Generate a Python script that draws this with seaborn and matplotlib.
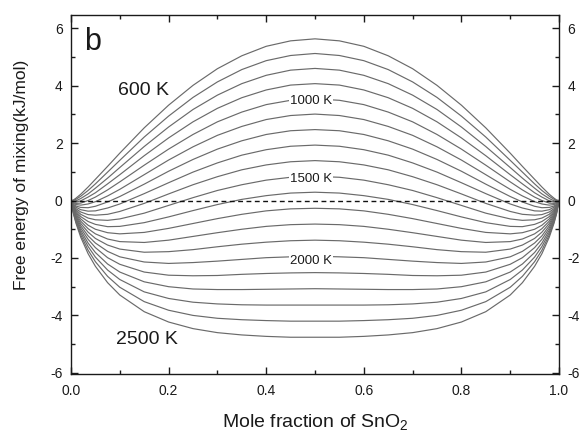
import matplotlib
matplotlib.use("Agg")
import matplotlib.pyplot as plt
from matplotlib.ticker import MultipleLocator, FormatStrFormatter
import numpy as np
import pandas as pd
import seaborn as sns

# Composition grid (mole fraction of SnO2); denser near the pure end members
mole_fraction = [0.0, 0.005, 0.01, 0.02, 0.035, 0.05, 0.075, 0.1, 0.15, 0.2,
                 0.25, 0.3, 0.35, 0.4, 0.45, 0.5, 0.55, 0.6, 0.65, 0.7, 0.75,
                 0.8, 0.85, 0.9, 0.925, 0.95, 0.965, 0.98, 0.99, 0.995, 1.0]

temperatures = [600, 700, 800, 900, 1000, 1100, 1200, 1300, 1400, 1500,
                1600, 1700, 1800, 1900, 2000, 2100, 2200, 2300, 2400, 2500]

# Free energy of mixing (kJ/mol) at each temperature
g600 = [0, 0.02, 0.08, 0.22, 0.47, 0.74, 1.19, 1.65, 2.53, 3.32, 4.01, 4.59, 5.04, 5.37, 5.56, 5.63,
        5.56, 5.37, 5.04, 4.59, 4.01, 3.32, 2.53, 1.65, 1.19, 0.74, 0.47, 0.22, 0.08, 0.02, 0]
g700 = [0, 0.00, 0.04, 0.15, 0.35, 0.58, 0.99, 1.40, 2.21, 2.94, 3.59, 4.13, 4.56, 4.87, 5.05, 5.12,
        5.05, 4.87, 4.56, 4.13, 3.59, 2.94, 2.21, 1.40, 0.99, 0.58, 0.35, 0.15, 0.04, 0.00, 0]
g800 = [0, -0.03, -0.01, 0.07, 0.23, 0.43, 0.78, 1.15, 1.88, 2.56, 3.17, 3.67, 4.07, 4.36, 4.54, 4.60,
        4.54, 4.36, 4.07, 3.67, 3.17, 2.56, 1.88, 1.15, 0.78, 0.43, 0.23, 0.07, -0.01, -0.03, 0]
g900 = [0, -0.05, -0.05, -0.01, 0.12, 0.27, 0.58, 0.90, 1.56, 2.18, 2.74, 3.21, 3.58, 3.85, 4.02, 4.07,
        4.02, 3.85, 3.58, 3.21, 2.74, 2.18, 1.56, 0.90, 0.58, 0.27, 0.12, -0.01, -0.05, -0.05, 0]
g1000 = [0, -0.08, -0.10, -0.09, 0.00, 0.12, 0.37, 0.65, 1.23, 1.79, 2.30, 2.74, 3.08, 3.34, 3.49, 3.54,
         3.49, 3.34, 3.08, 2.74, 2.30, 1.79, 1.23, 0.65, 0.37, 0.12, 0.00, -0.09, -0.10, -0.08, 0]
g1100 = [0, -0.10, -0.14, -0.16, -0.12, -0.04, 0.16, 0.39, 0.90, 1.41, 1.87, 2.27, 2.58, 2.82, 2.96, 3.01,
         2.96, 2.82, 2.58, 2.27, 1.87, 1.41, 0.90, 0.39, 0.16, -0.04, -0.12, -0.16, -0.14, -0.10, 0]
g1200 = [0, -0.13, -0.19, -0.24, -0.25, -0.20, -0.05, 0.14, 0.57, 1.02, 1.43, 1.79, 2.08, 2.30, 2.43, 2.47,
         2.43, 2.30, 2.08, 1.79, 1.43, 1.02, 0.57, 0.14, -0.05, -0.20, -0.25, -0.24, -0.19, -0.13, 0]
g1300 = [0, -0.15, -0.23, -0.32, -0.37, -0.36, -0.26, -0.12, 0.24, 0.62, 0.99, 1.31, 1.58, 1.77, 1.89, 1.93,
         1.89, 1.77, 1.58, 1.31, 0.99, 0.62, 0.24, -0.12, -0.26, -0.36, -0.37, -0.32, -0.23, -0.15, 0]
g1400 = [0, -0.18, -0.28, -0.40, -0.49, -0.51, -0.48, -0.38, -0.10, 0.23, 0.55, 0.83, 1.07, 1.24, 1.35, 1.39,
         1.35, 1.24, 1.07, 0.83, 0.55, 0.23, -0.10, -0.38, -0.48, -0.51, -0.49, -0.40, -0.28, -0.18, 0]
g1500 = [0, -0.20, -0.32, -0.48, -0.61, -0.67, -0.69, -0.64, -0.44, -0.17, 0.10, 0.35, 0.55, 0.71, 0.81, 0.84,
         0.81, 0.71, 0.55, 0.35, 0.10, -0.17, -0.44, -0.64, -0.69, -0.67, -0.61, -0.48, -0.32, -0.20, 0]
g1600 = [0, -0.23, -0.37, -0.56, -0.73, -0.83, -0.91, -0.90, -0.77, -0.57, -0.35, -0.14, 0.04, 0.17, 0.26, 0.29,
         0.26, 0.17, 0.04, -0.14, -0.35, -0.57, -0.77, -0.90, -0.91, -0.83, -0.73, -0.56, -0.37, -0.23, 0]
g1700 = [0, -0.26, -0.41, -0.64, -0.86, -1.00, -1.12, -1.16, -1.11, -0.97, -0.80, -0.63, -0.48, -0.36, -0.29, -0.27,
         -0.29, -0.36, -0.48, -0.63, -0.80, -0.97, -1.11, -1.16, -1.12, -1.00, -0.86, -0.64, -0.41, -0.26, 0]
g1800 = [0, -0.28, -0.46, -0.72, -0.98, -1.16, -1.34, -1.43, -1.46, -1.38, -1.25, -1.12, -1.00, -0.90, -0.84, -0.82,
         -0.84, -0.90, -1.00, -1.12, -1.25, -1.38, -1.46, -1.43, -1.34, -1.16, -0.98, -0.72, -0.46, -0.28, 0]
g1900 = [0, -0.31, -0.51, -0.80, -1.10, -1.32, -1.55, -1.69, -1.80, -1.78, -1.71, -1.61, -1.52, -1.45, -1.40, -1.38,
         -1.40, -1.45, -1.52, -1.61, -1.71, -1.78, -1.80, -1.69, -1.55, -1.32, -1.10, -0.80, -0.51, -0.31, 0]
g2000 = [0, -0.33, -0.55, -0.88, -1.23, -1.48, -1.77, -1.96, -2.14, -2.19, -2.16, -2.11, -2.05, -1.99, -1.96, -1.94,
         -1.96, -1.99, -2.05, -2.11, -2.16, -2.19, -2.14, -1.96, -1.77, -1.48, -1.23, -0.88, -0.55, -0.33, 0]
g2100 = [0, -0.36, -0.60, -0.96, -1.35, -1.64, -1.99, -2.22, -2.49, -2.60, -2.62, -2.61, -2.57, -2.54, -2.52, -2.51,
         -2.52, -2.54, -2.57, -2.61, -2.62, -2.60, -2.49, -2.22, -1.99, -1.64, -1.35, -0.96, -0.60, -0.36, 0]
g2200 = [0, -0.38, -0.64, -1.04, -1.48, -1.81, -2.21, -2.49, -2.83, -3.00, -3.08, -3.10, -3.10, -3.09, -3.08, -3.07,
         -3.08, -3.09, -3.10, -3.10, -3.08, -3.00, -2.83, -2.49, -2.21, -1.81, -1.48, -1.04, -0.64, -0.38, 0]
g2300 = [0, -0.41, -0.69, -1.12, -1.60, -1.97, -2.42, -2.75, -3.18, -3.41, -3.54, -3.60, -3.63, -3.64, -3.64, -3.64,
         -3.64, -3.64, -3.63, -3.60, -3.54, -3.41, -3.18, -2.75, -2.42, -1.97, -1.60, -1.12, -0.69, -0.41, 0]
g2400 = [0, -0.44, -0.74, -1.20, -1.73, -2.13, -2.64, -3.02, -3.52, -3.82, -4.00, -4.10, -4.15, -4.18, -4.20, -4.20,
         -4.20, -4.18, -4.15, -4.10, -4.00, -3.82, -3.52, -3.02, -2.64, -2.13, -1.73, -1.20, -0.74, -0.44, 0]
g2500 = [0, -0.46, -0.78, -1.28, -1.85, -2.29, -2.86, -3.29, -3.87, -4.23, -4.46, -4.60, -4.68, -4.73, -4.76, -4.76,
         -4.76, -4.73, -4.68, -4.60, -4.46, -4.23, -3.87, -3.29, -2.86, -2.29, -1.85, -1.28, -0.78, -0.46, 0]

curves = [g600, g700, g800, g900, g1000, g1100, g1200, g1300, g1400, g1500,
          g1600, g1700, g1800, g1900, g2000, g2100, g2200, g2300, g2400, g2500]

# Temperature labels: (text, x, baseline y, font size, horizontal alignment)
curve_labels = [("600 K", 0.096, 3.68, 14, "left"),
                ("1000 K", 0.492, 3.37, 9.5, "center"),
                ("1500 K", 0.492, 0.64, 9.5, "center"),
                ("2000 K", 0.492, -2.22, 9.5, "center"),
                ("2500 K", 0.092, -5.0, 14, "left")]

x_ticks = [0.0, 0.2, 0.4, 0.6, 0.8, 1.0]
y_ticks = [-6, -4, -2, 0, 2, 4, 6]

rows = []
for temp, g in zip(temperatures, curves):
    for xv, gv in zip(mole_fraction, g):
        rows.append({"x": xv, "G": gv, "T": temp})
df = pd.DataFrame(rows)

sns.set_style("ticks")
plt.rcParams["font.family"] = ["Liberation Sans", "DejaVu Sans"]
plt.rcParams["axes.unicode_minus"] = False
plt.rcParams["mathtext.fontset"] = "custom"
plt.rcParams["mathtext.rm"] = "Liberation Sans"

fig = plt.figure(figsize=(5.84, 4.32), dpi=100)
ax = fig.add_axes([71 / 584, 1 - 374 / 432, 488 / 584, 359 / 432])

line_color = "#6a6a6a"
sns.lineplot(data=df, x="x", y="G", hue="T", units="T", estimator=None,
             sort=False, palette=[line_color] * len(temperatures),
             linewidth=0.85, legend=False, ax=ax)

# zero reference line
ax.axhline(0, color="#111111", linewidth=1.0, linestyle=(0, (3.5, 2.5)), zorder=3)

for text, tx, ty, fs, ha in curve_labels:
    bbox = None
    if fs < 12:
        bbox = dict(facecolor="white", edgecolor="none", pad=0.6)
    ax.text(tx, ty, text, fontsize=fs, ha=ha, va="baseline", color="#1a1a1a",
            bbox=bbox, zorder=4)

ax.text(0.027, 5.25, "b", fontsize=22, ha="left", va="baseline", color="#1a1a1a")

ax.set_xlim(0, 1)
ax.set_ylim(-6.04, 6.46)
ax.set_xticks(x_ticks)
ax.set_yticks(y_ticks)
ax.xaxis.set_minor_locator(MultipleLocator(0.1))
ax.yaxis.set_minor_locator(MultipleLocator(1))
ax.xaxis.set_major_formatter(FormatStrFormatter("%.1f"))
ax.yaxis.set_major_formatter(FormatStrFormatter("%d"))

ax.tick_params(which="both", direction="in", top=True, right=True,
               labelright=True, colors="#1a1a1a", labelcolor="#1a1a1a",
               width=1.0)
ax.tick_params(which="major", length=5, labelsize=10, pad=6)
ax.tick_params(axis="x", which="major", pad=7)
ax.tick_params(which="minor", length=3)
for sp in ax.spines.values():
    sp.set_linewidth(1.0)
    sp.set_color("#1a1a1a")

ax.set_xlabel("Mole fraction of SnO$_2$", fontsize=14, color="#1a1a1a", labelpad=11)
ax.set_ylabel("Free energy of mixing(kJ/mol)", fontsize=12.5, color="#1a1a1a")
ax.yaxis.set_label_coords(-0.086, 0.554)

fig.savefig("out.png", dpi=100)
